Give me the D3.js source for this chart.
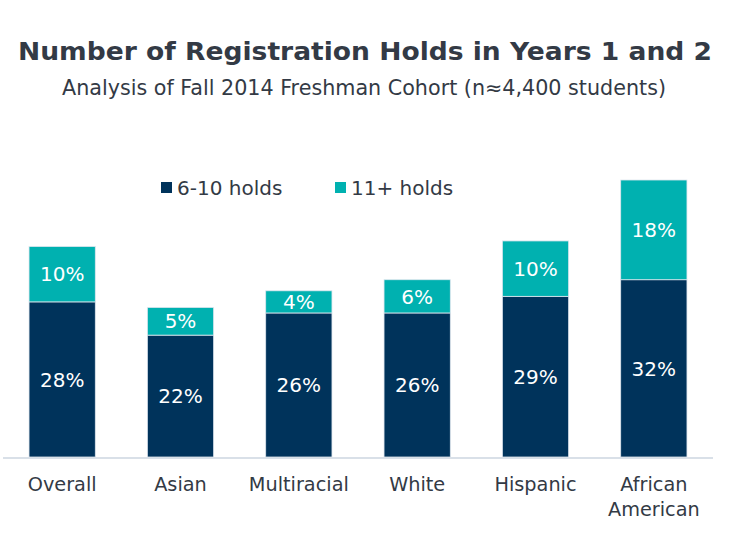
<!DOCTYPE html>
<html>
<head>
  <title>Registration Holds</title>
  <script src="https://d3js.org/d3.v7.min.js"></script>
  <style>
    body { margin: 0; background: #fff; }
    text { font-family: "DejaVu Sans", Verdana, sans-serif; }
  </style>
</head>
<body>
  <svg id="chart" width="751" height="560"></svg>

  <script>
    // chart data
    const categories = ["Overall", "Asian", "Multiracial", "White", "Hispanic", "African American"];
    const holds6to10 = [28, 22, 26, 26, 29, 32];
    const holds11plus = [10, 5, 4, 6, 10, 18];
    const seriesNames = ["6-10 holds", "11+ holds"];
    const seriesColors = ["#00335b", "#00b1b0"];

    const svg = d3.select("#chart");

    // rows for the stack layout
    const rows = categories.map((c, i) => ({ cat: c, a: holds6to10[i], b: holds11plus[i] }));
    const stacked = d3.stack().keys(["a", "b"])(rows);

    const x = d3.scaleBand()
      .domain(categories)
      .range([3, 713])
      .paddingInner(0.44)
      .paddingOuter(0.22);

    const y = d3.scaleLinear()
      .domain([0, 50])
      .range([457, 180]);

    // title + subtitle
    svg.append("text")
      .attr("x", 365).attr("y", 60)
      .attr("text-anchor", "middle")
      .attr("font-size", 25).attr("font-weight", "bold")
      .attr("textLength", 694).attr("lengthAdjust", "spacingAndGlyphs")
      .attr("fill", "#333a45")
      .text("Number of Registration Holds in Years 1 and 2");

    svg.append("text")
      .attr("x", 364).attr("y", 95)
      .attr("text-anchor", "middle")
      .attr("font-size", 20.5)
      .attr("textLength", 604).attr("lengthAdjust", "spacingAndGlyphs")
      .attr("fill", "#333a45")
      .text("Analysis of Fall 2014 Freshman Cohort (n\u22484,400 students)");

    // bars
    const layers = svg.selectAll(".layer")
      .data(stacked)
      .enter().append("g")
      .attr("class", "layer")
      .attr("fill", (d, i) => seriesColors[i]);

    layers.selectAll("rect")
      .data(d => d)
      .enter().append("rect")
      .attr("x", d => x(d.data.cat))
      .attr("width", x.bandwidth())
      .attr("y", d => y(d[1]))
      .attr("height", d => y(d[0]) - y(d[1]))
      .attr("stroke", "#dfe6ee")
      .attr("stroke-width", 0.8);

    // value labels inside each segment
    layers.selectAll(".val")
      .data(d => d)
      .enter().append("text")
      .attr("class", "val")
      .attr("x", d => x(d.data.cat) + x.bandwidth() / 2)
      .attr("y", d => (y(d[0]) + y(d[1])) / 2)
      .attr("dy", "0.36em")
      .attr("text-anchor", "middle")
      .attr("font-size", 20)
      .attr("fill", "#ffffff")
      .text(d => (d[1] - d[0]) + "%");

    // baseline
    svg.append("line")
      .attr("x1", 3).attr("x2", 713)
      .attr("y1", y(0) + 1).attr("y2", y(0) + 1)
      .attr("stroke", "#d9e0e8")
      .attr("stroke-width", 2);

    // category labels (wrap two-word "African American")
    const catLabels = svg.selectAll(".cat")
      .data(categories)
      .enter().append("text")
      .attr("class", "cat")
      .attr("text-anchor", "middle")
      .attr("font-size", 19.3)
      .attr("fill", "#333a45")
      .attr("y", 491);

    catLabels.each(function(c) {
      const t = d3.select(this);
      const cx = x(c) + x.bandwidth() / 2;
      const words = c === "African American" ? c.split(" ") : [c];
      words.forEach((w, i) => {
        t.append("tspan")
          .attr("x", cx)
          .attr("dy", i === 0 ? 0 : 25)
          .text(w);
      });
    });

    // legend
    const legendX = [161, 335];
    const legend = svg.selectAll(".legend")
      .data(seriesNames)
      .enter().append("g")
      .attr("class", "legend")
      .attr("transform", (d, i) => `translate(${legendX[i]},182)`);

    legend.append("rect")
      .attr("width", 11).attr("height", 11)
      .attr("fill", (d, i) => seriesColors[i]);

    legend.append("text")
      .attr("x", 16).attr("y", 5.5)
      .attr("dy", "0.36em")
      .attr("font-size", 20)
      .attr("fill", "#333a45")
      .text(d => d);
  </script>
</body>
</html>
